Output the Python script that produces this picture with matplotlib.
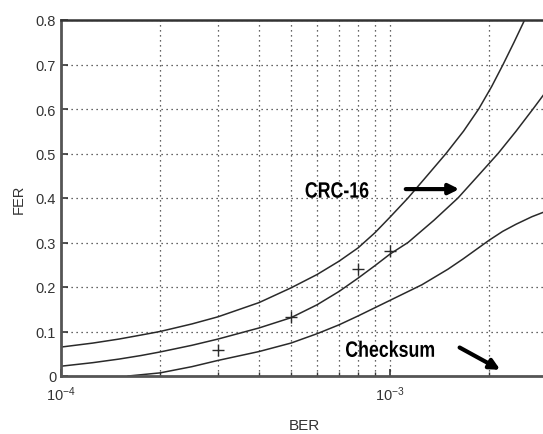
import numpy as np
import matplotlib
matplotlib.use("Agg")
import matplotlib.pyplot as plt
import matplotlib.transforms as mtransforms
from matplotlib.ticker import LogLocator, NullFormatter, FixedLocator
from matplotlib.textpath import TextPath
from matplotlib.patches import PathPatch
from matplotlib.font_manager import FontProperties

plt.rcParams['font.family'] = ['Liberation Sans', 'DejaVu Sans']
plt.rcParams['mathtext.fontset'] = 'custom'
plt.rcParams['mathtext.rm'] = 'Liberation Sans'
plt.rcParams['mathtext.it'] = 'Liberation Sans'

# upper curve
top_ber = [1e-4, 1.25e-4, 1.5e-4, 1.75e-4, 2e-4, 2.5e-4, 3e-4, 4e-4, 5e-4, 6e-4, 7e-4,
           8e-4, 9e-4, 1e-3, 1.134e-3, 1.296e-3, 1.48e-3, 1.672e-3, 1.86e-3,
           2.035e-3, 2.206e-3, 2.382e-3, 2.565e-3]
top_fer = [0.065, 0.074, 0.083, 0.092, 0.100, 0.117, 0.133, 0.165, 0.198, 0.228, 0.258,
           0.288, 0.322, 0.357, 0.40, 0.45, 0.50, 0.55, 0.60,
           0.65, 0.70, 0.75, 0.80]

# middle curve
mid_ber = [1e-4, 1.25e-4, 1.5e-4, 1.75e-4, 2e-4, 2.5e-4, 3e-4, 4e-4, 5e-4, 6e-4, 7e-4,
           8e-4, 9e-4, 1e-3, 1.134e-3, 1.36e-3, 1.609e-3, 1.852e-3, 2.13e-3,
           2.415e-3, 2.72e-3, 2.95e-3]
mid_fer = [0.022, 0.030, 0.038, 0.046, 0.054, 0.069, 0.083, 0.108, 0.131, 0.160, 0.19,
           0.22, 0.248, 0.274, 0.30, 0.35, 0.40, 0.45, 0.50,
           0.55, 0.60, 0.635]

# lower curve
bot_ber = [1.6e-4, 2e-4, 2.5e-4, 3e-4, 4e-4, 5e-4, 6e-4, 7e-4, 8e-4, 1e-3, 1.25e-3,
           1.5e-3, 1.667e-3, 2e-3, 2.2e-3, 2.415e-3, 2.7e-3, 2.95e-3]
bot_fer = [0.0, 0.007, 0.021, 0.035, 0.055, 0.074, 0.095, 0.115, 0.135, 0.17, 0.205,
           0.24, 0.263, 0.305, 0.325, 0.341, 0.358, 0.369]

# measured points
pts_ber = [3e-4, 5e-4, 8e-4, 1e-3]
pts_fer = [0.058, 0.132, 0.24, 0.28]

y_ticks = [0, 0.1, 0.2, 0.3, 0.4, 0.5, 0.6, 0.7, 0.8]
y_labels = ['0', '0.1', '0.2', '0.3', '0.4', '0.5', '0.6', '0.7', '0.8']

fig = plt.figure(figsize=(5.43, 4.35), dpi=100)
ax = fig.add_axes([61 / 543, 58 / 435, 486 / 543, 356 / 435])

line_col = '#2a2a2a'
ax.plot(top_ber, top_fer, color=line_col, lw=1.1)
ax.plot(mid_ber, mid_fer, color=line_col, lw=1.1)
ax.plot(bot_ber, bot_fer, color=line_col, lw=1.1)
ax.plot(pts_ber, pts_fer, '+', color=line_col, ms=9, mew=1.0)

ax.set_xscale('log')
ax.set_xlim(1e-4, 3e-3)
ax.set_ylim(0, 0.8)
ax.set_yticks(y_ticks)
ax.set_yticklabels(y_labels)
ax.xaxis.set_major_locator(FixedLocator([1e-4, 1e-3]))
ax.xaxis.set_minor_locator(LogLocator(base=10, subs=np.arange(2, 10)))
ax.xaxis.set_minor_formatter(NullFormatter())

ax.grid(True, which='major', axis='both', ls=(0, (1, 3)), color='#333333', lw=0.9)
ax.grid(True, which='minor', axis='x', ls=(0, (1, 3)), color='#333333', lw=0.9)

ax.tick_params(axis='both', which='both', direction='in', labelsize=10.5, colors='#333333')
ax.tick_params(axis='both', which='major', length=5, width=1.2)
ax.tick_params(axis='x', which='minor', length=3, width=1.0)
ax.tick_params(axis='x', pad=6)
ax.tick_params(top=False, right=False)

for side in ['left', 'bottom']:
    ax.spines[side].set_linewidth(2.0)
    ax.spines[side].set_color('#555555')
ax.spines['top'].set_linewidth(1.8)
ax.spines['top'].set_color('#333333')
ax.spines['right'].set_visible(False)

ax.set_xlabel('BER', fontsize=11, color='#333333', labelpad=11)
ax.set_ylabel('FER', fontsize=10.5, color='#333333', labelpad=7)


def narrow_text(x, y, s, size=16, squeeze=0.8):
    # bold text squeezed horizontally, centred on data point (x, y)
    fp = FontProperties(family='Liberation Sans', weight='bold', size=size)
    tp = TextPath((0, 0), s, prop=fp)
    ext = tp.get_extents()
    k = fig.dpi / 72.0
    px, py = ax.transData.transform((x, y))
    tr = (mtransforms.Affine2D()
          .translate(-(ext.x0 + ext.x1) / 2, -(ext.y0 + ext.y1) / 2)
          .scale(k * squeeze, k)
          .translate(px, py))
    patch = PathPatch(tp, transform=tr, facecolor='black', edgecolor='none')
    fig.patches.append(patch)
    patch.set_figure(fig)


narrow_text(6.9e-4, 0.418, 'CRC-16')
ax.annotate('', xy=(1.655e-3, 0.42), xytext=(1.095e-3, 0.42),
            arrowprops=dict(arrowstyle='-|>,head_length=0.6,head_width=0.3', lw=3, color='black'))
narrow_text(1.0e-3, 0.061, 'Checksum')
ax.annotate('', xy=(2.2e-3, 0.011), xytext=(1.6e-3, 0.067),
            arrowprops=dict(arrowstyle='-|>,head_length=0.6,head_width=0.3', lw=3, color='black'))

fig.savefig('out.png', dpi=100)
